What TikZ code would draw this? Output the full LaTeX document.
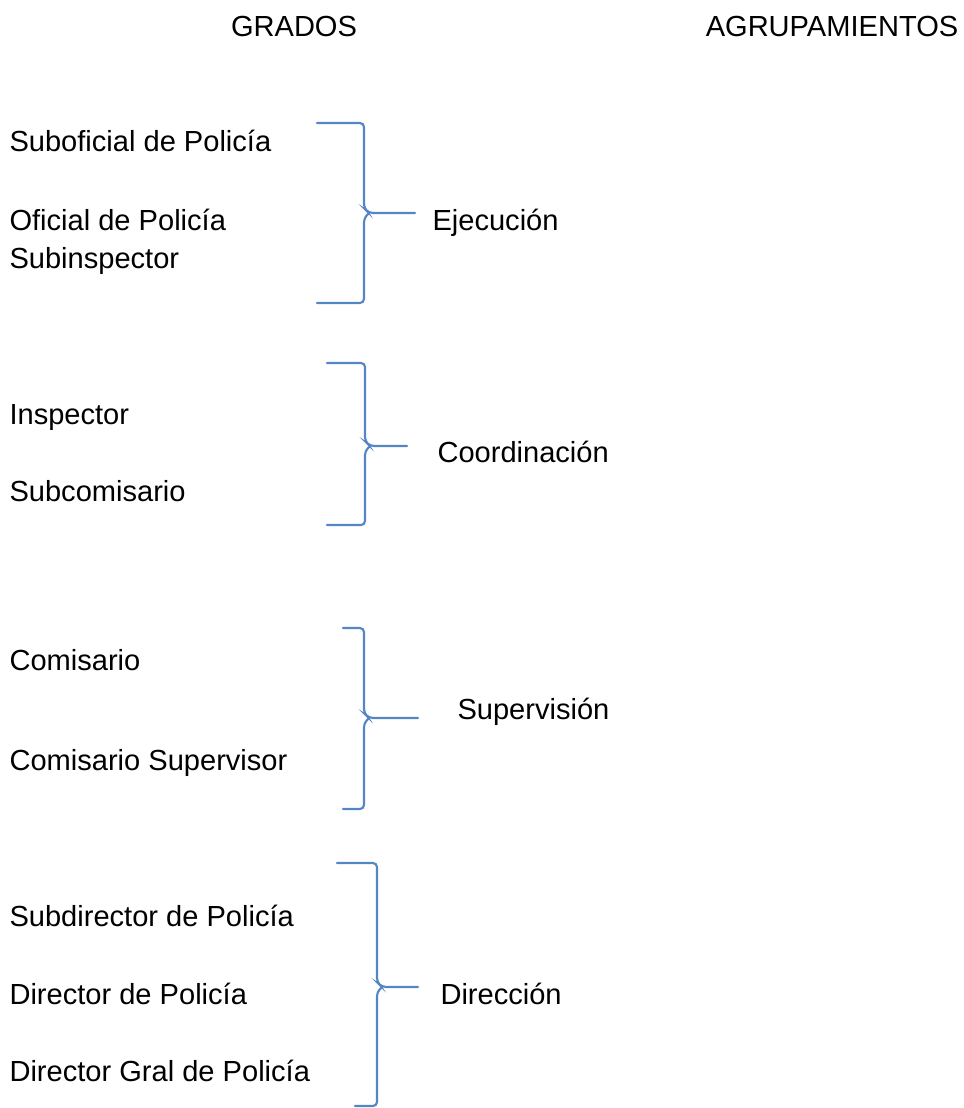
\documentclass[tikz,border=0pt]{standalone}
\usepackage{fontspec}
\setmainfont{Liberation Sans}
\usepackage{xcolor}
\usepackage{tikz}
\usetikzlibrary{positioning}
\definecolor{LlaveAzul}{RGB}{84,134,197}
\tikzset{
    titulo/.style={
        font=\fontsize{10.9}{13}\selectfont, inner sep=0pt, anchor=base
    },
    grado/.style={
        font=\fontsize{10.9}{13}\selectfont, inner sep=0pt, anchor=base west
    },
    agrup/.style={
        font=\fontsize{10.9}{13}\selectfont, inner sep=0pt, anchor=base west
    },
    llave/.style={
        draw=LlaveAzul, line width=0.8pt, rounded corners=1.5pt, line cap=round
    }
}

\begin{document}
\begin{tikzpicture}[x=0.375pt, y=-0.375pt]
    \useasboundingbox (0,0) rectangle (963,1108);
    % encabezados
    \node[titulo] (grados) at (294,36) {GRADOS};
    \node[titulo] (agrupamientos) at (832,36) {AGRUPAMIENTOS};

    % grados
    \node[grado] (subof) at (9,151) {Suboficial de Policía};
    \node[grado] (oficial) at (9,230) {Oficial de Policía};
    \node[grado] (subinsp) at (9,268) {Subinspector};
    \node[grado] (insp) at (9,424) {Inspector};
    \node[grado] (subcom) at (9,501) {Subcomisario};
    \node[grado] (comis) at (9,670) {Comisario};
    \node[grado] (comsup) at (9,770) {Comisario Supervisor};
    \node[grado] (subdir) at (9,926) {Subdirector de Policía};
    \node[grado] (director) at (9,1004) {Director de Policía};
    \node[grado] (dirgral) at (9,1081) {Director Gral de Policía};

    % llaves
    \foreach \nom/\izq/\arr/\ver/\med/\abj/\pun/\izqb in {
        ejec/317/123/364/213/303/415/317,
        coord/327/363/365/446/525/407/327,
        superv/343/628/364/718/809/418/343,
        direc/337/863/377/987/1106/418/355}{
        \coordinate (\nom-arr) at (\izq,\arr);
        \coordinate (\nom-abj) at (\izqb,\abj);
        \coordinate (\nom-pun) at (\pun,\med);
        \draw[llave] (\nom-arr) -- (\ver,\arr) -- (\ver,\med-5) -- (\ver+5,\med) -- (\nom-pun);
        \draw[llave] (\nom-abj) -- (\ver,\abj) -- (\ver,\med+5) -- (\ver+5,\med);
    }

    % agrupamientos
    \node[agrup] (ejecucion) at (432,230) {Ejecución};
    \node[agrup] (coordinacion) at (437,462) {Coordinación};
    \node[agrup] (supervision) at (457,719) {Supervisión};
    \node[agrup] (direccion) at (440,1004) {Dirección};
\end{tikzpicture}
\end{document}
